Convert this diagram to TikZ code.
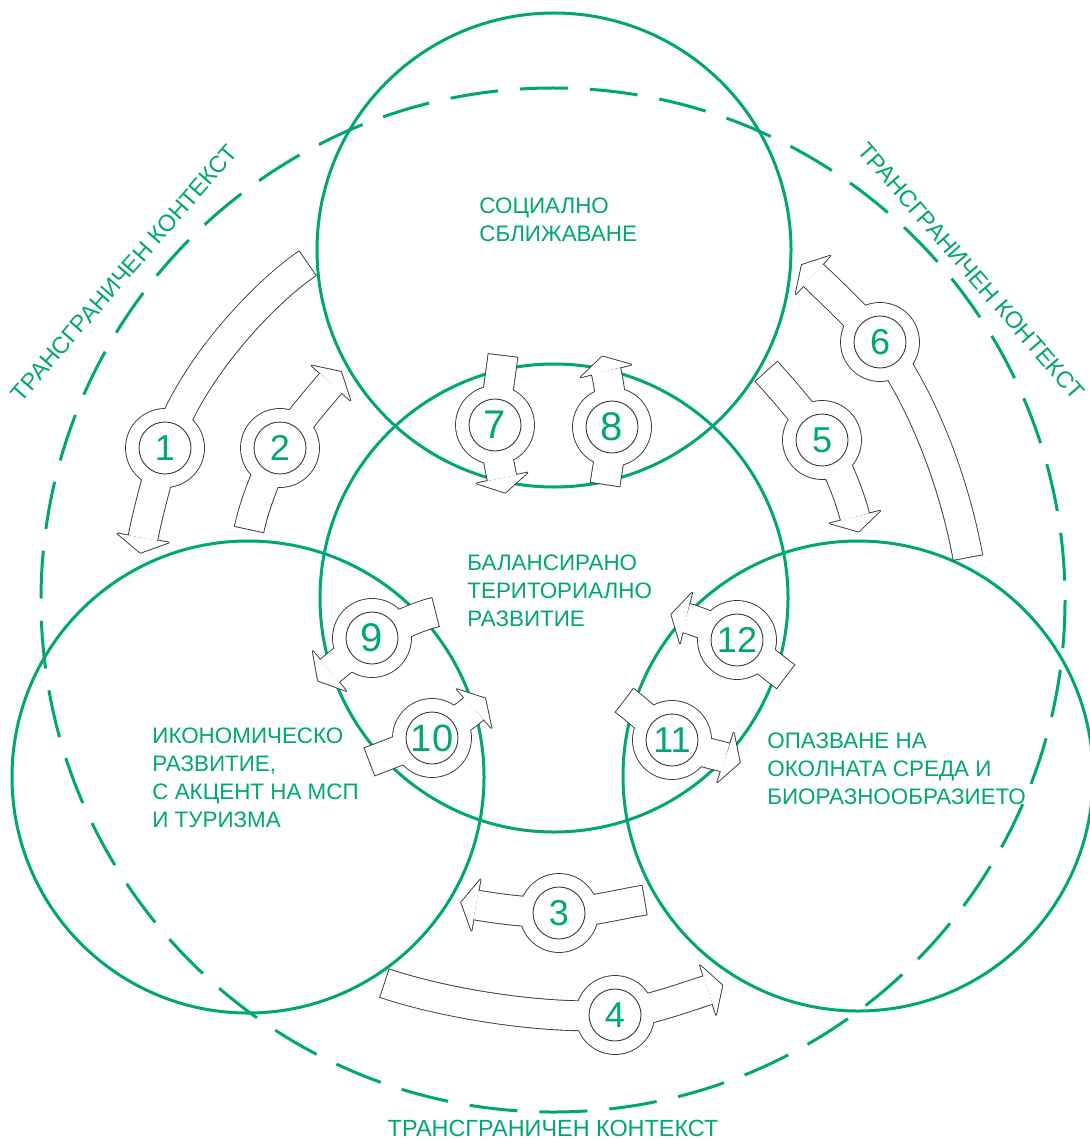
\documentclass[tikz,border=0pt]{standalone}
\usepackage{fontspec}
\setmainfont{Liberation Sans}
\usetikzlibrary{calc}
\definecolor{ggreen}{RGB}{0,166,118}
\definecolor{outl}{RGB}{55,55,55}
\tikzset{
  areacircle/.style={circle, draw=ggreen, line width=1.5pt, inner sep=0pt, minimum size=#1},
  contextcircle/.style={draw=ggreen, line width=1.5pt, dash pattern=on 24pt off 11pt},
  bandout/.style={draw=outl, line width=15.4pt},
  bandfill/.style={draw=white, line width=14.5pt, shorten <=0.45pt},
  headline/.style={draw=outl, line width=0.9pt, line join=round},
  ringline/.style={draw=outl, line width=0.9pt},
  numc/.style={circle, draw=outl, line width=0.45pt, minimum size=26pt, inner sep=0pt,
    text=ggreen, font=\fontsize{18}{18}\selectfont},
  arealabel/.style={text=ggreen, font=\fontsize{11.2}{14.15}\selectfont, align=left,
    anchor=north west, inner sep=0pt},
  ctxlabel/.style={text=ggreen, font=\fontsize{11.7}{13}\selectfont, inner sep=0pt}
}
% band centre lines (pixel coordinates, y downwards)
\def\bA{(308,263) .. controls (265,292) and (190,370) .. (165,448) .. controls (160,470) and (147,515) .. (143,538)}
\def\bB{(249,530) .. controls (254,505) and (268,470) .. (280,448) .. controls (295,425) and (318,398) .. (331,383)}
\def\bC{(645,900) .. controls (620,904) and (585,913) .. (559,913) .. controls (530,913) and (496,908.5) .. (476,905)}
\def\bD{(384,983) .. controls (440,1002) and (540,1020) .. (615,1015) .. controls (645,1012) and (689,996) .. (708,990)}
\def\bE{(766,371) .. controls (785,392) and (805,415) .. (822,440) .. controls (838,465) and (850,497.6) .. (855,517)}
\def\bF{(968,558) .. controls (950,460) and (910,380) .. (880,342) .. controls (860,320) and (824,285) .. (813,275)}
\def\bG{(503,355) .. controls (500,380) and (496,400) .. (495,425) .. controls (495,445) and (499.5,466) .. (502,478)}
\def\bH{(605,485) .. controls (608,465) and (611,450) .. (612,427) .. controls (612,405) and (609,383) .. (606,371)}
\def\bI{(436,612) .. controls (415,617) and (395,628) .. (372,638) .. controls (355,650) and (335.6,665.9) .. (329.5,671)}
\def\bJ{(369,762) .. controls (390,754) and (410,746) .. (432,738) .. controls (450,727) and (468,714) .. (474,708.5)}
\def\bK{(624,700) .. controls (640,712) and (655,727) .. (672,740) .. controls (690,750) and (718,755) .. (725.5,757.5)}
\def\bL{(786,677) .. controls (770,665) and (755,652) .. (737,640) .. controls (720,630) and (693.8,619.9) .. (686,618)}
% arrow head: base centre, direction
\newcommand\hd[2]{($(#1)+(#2+90:26)$) -- ($(#1)+(#2:15)$) -- ($(#1)+(#2-90:26)$) -- cycle}
\newcommand\allheads[1]{%
  \path[#1] \hd{143,538}{100};
  \path[#1] \hd{331,383}{-48};
  \path[#1] \hd{476,905}{190};
  \path[#1] \hd{708,990}{-18};
  \path[#1] \hd{855,517}{76};
  \path[#1] \hd{813,275}{222};
  \path[#1] \hd{502,478}{78};
  \path[#1] \hd{606,371}{-104};
  \path[#1] \hd{329.5,671}{140};
  \path[#1] \hd{474,708.5}{-42};
  \path[#1] \hd{725.5,757.5}{18.4};
  \path[#1] \hd{686,618}{193.5};
}
\newcommand\allrings[1]{%
  \foreach \p in {(165,448),(280,448),(559,913),(615,1015),(822,440),(880,342),
                  (495,425),(612,427),(372,638),(432,738),(672,740),(737,640)}
    {\path[#1] \p circle[radius=39];}
}
\newcommand\allbands[1]{%
  \path[#1] \bA; \path[#1] \bB; \path[#1] \bC; \path[#1] \bD;
  \path[#1] \bE; \path[#1] \bF; \path[#1] \bG; \path[#1] \bH;
  \path[#1] \bI; \path[#1] \bJ; \path[#1] \bK; \path[#1] \bL;
}
\begin{document}
\begin{tikzpicture}[x=0.5pt,y=-0.5pt]
\useasboundingbox (0,0) rectangle (1089,1139);
\fill[white] (0,0) rectangle (1089,1139);

% context (dashed) circle
\draw[contextcircle] (553,600) circle[radius=512];

% four area circles
\node[areacircle=237pt] (social) at (554,250) {};
\node[areacircle=234pt] (balanced) at (554,598) {};
\node[areacircle=236pt] (economic) at (248,777) {};
\node[areacircle=235pt] (environment) at (858,776) {};

% arrows: outline pass
\allbands{bandout}
\allheads{headline}
\allrings{ringline}
% arrows: white fill pass
\allbands{bandfill}
\allheads{fill=white}
\allrings{fill=white}

% numbered inner circles
\node[numc] (n1) at (165,448) {1};
\node[numc] (n2) at (280,448) {2};
\node[numc] (n3) at (559,913) {3};
\node[numc] (n4) at (615,1015) {4};
\node[numc] (n5) at (822,440) {5};
\node[numc] (n6) at (880,342) {6};
\node[numc, font=\fontsize{20}{20}\selectfont] (n7) at (495,425) {7};
\node[numc, font=\fontsize{20}{20}\selectfont] (n8) at (612,427) {8};
\node[numc, font=\fontsize{20}{20}\selectfont] (n9) at (372,638) {9};
\node[numc, font=\fontsize{19}{19}\selectfont] (n10) at (432,738) {10};
\node[numc] (n11) at (672,740) {11};
\node[numc] (n12) at (737,640) {12};

% area labels
\node[arealabel] (lsoc) at (479,197) {СОЦИАЛНО\\СБЛИЖАВАНЕ};
\node[arealabel] (lbal) at (467,554) {БАЛАНСИРАНО\\ТЕРИТОРИАЛНО\\РАЗВИТИЕ};
\node[arealabel] (leco) at (152,727) {ИКОНОМИЧЕСКО\\РАЗВИТИЕ,\\С АКЦЕНТ НА МСП\\И ТУРИЗМА};
\node[arealabel] (lenv) at (767,732) {ОПАЗВАНЕ НА\\ОКОЛНАТА СРЕДА И\\БИОРАЗНООБРАЗИЕТО};

% context labels
\node[ctxlabel, rotate=49] (ctxl) at (124,273) {ТРАНСГРАНИЧЕН КОНТЕКСТ};
\node[ctxlabel, rotate=-49] (ctxr) at (971,271) {ТРАНСГРАНИЧЕН КОНТЕКСТ};
\node[ctxlabel, anchor=base] (ctxb) at (553,1136) {ТРАНСГРАНИЧЕН КОНТЕКСТ};
\end{tikzpicture}
\end{document}
